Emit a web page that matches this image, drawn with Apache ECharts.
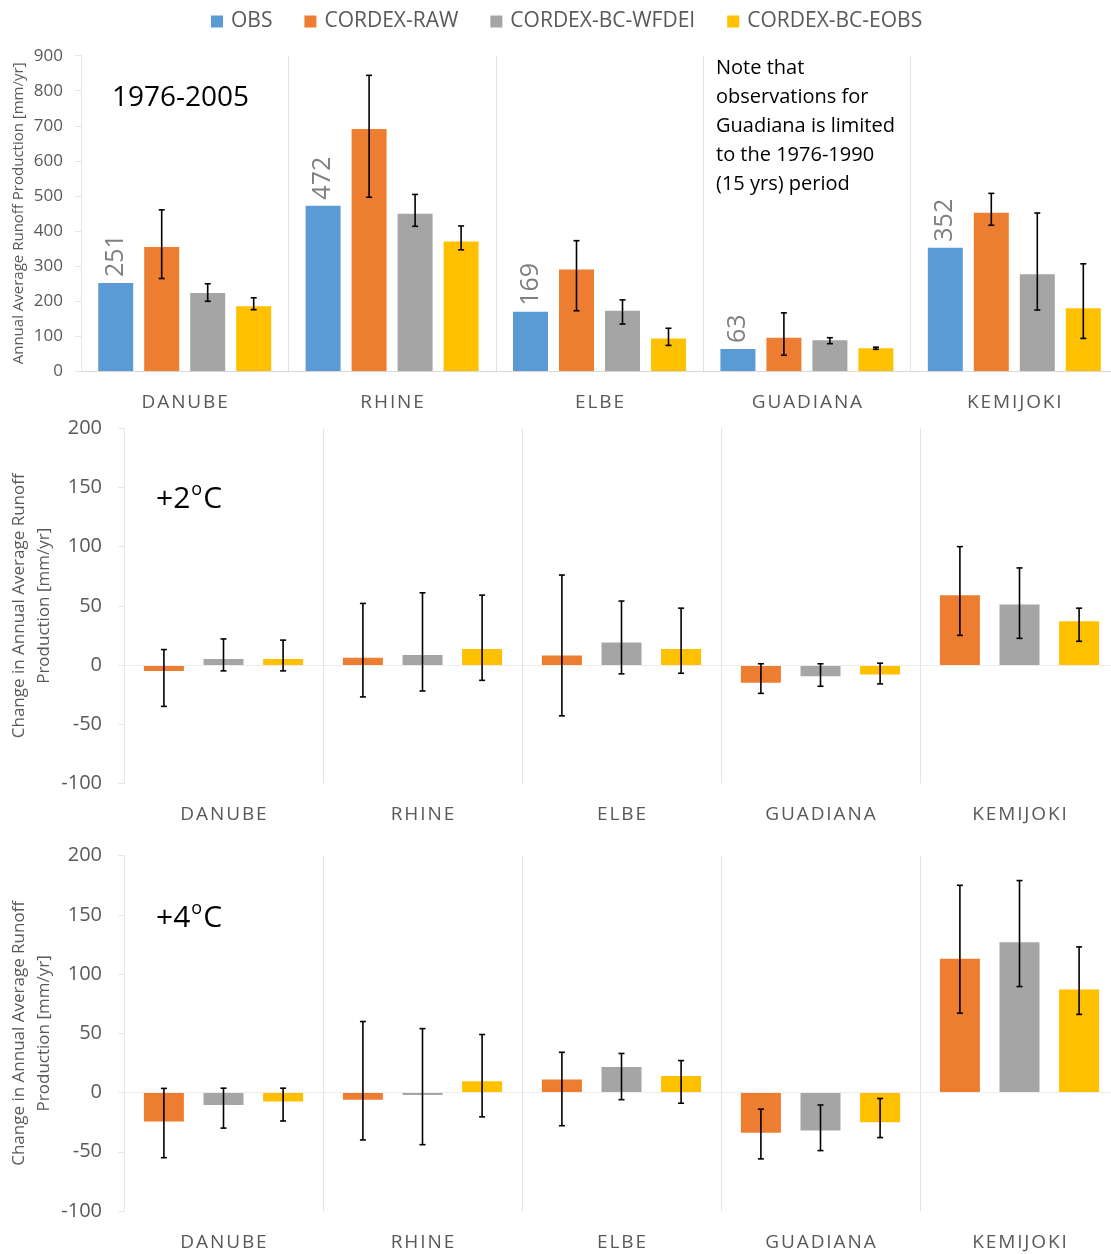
<!DOCTYPE html>
<html><head><meta charset="utf-8">
<script src="https://cdn.jsdelivr.net/npm/echarts@6/dist/echarts.min.js"></script>
<style>html,body{margin:0;padding:0;background:#fff}#c{width:1111px;height:1254px}</style>
</head><body><div id="c"></div>
<script>
const categories = ['DANUBE','RHINE','ELBE','GUADIANA','KEMIJOKI'];
const seriesNames = ['OBS','CORDEX-RAW','CORDEX-BC-WFDEI','CORDEX-BC-EOBS'];
const colors = ['#5B9BD5','#ED7D31','#A5A5A5','#FFC000'];

// Panel 1: 1976-2005 annual average runoff production [mm/yr]
const histObs    = [251, 472, 169, 63, 352];
const histRaw    = [354, 691, 290, 95, 452];
const histRawLo  = [264, 496, 172, 45, 416];
const histRawHi  = [460, 844, 372, 166, 507];
const histWfdei   = [223, 449, 172, 88, 276];
const histWfdeiLo = [199, 413, 134, 78, 174];
const histWfdeiHi = [249, 504, 203, 95, 451];
const histEobs   = [185, 370, 93, 65, 179];
const histEobsLo = [175, 346, 73, 62, 93];
const histEobsHi = [209, 414, 122, 68, 306];

// Panel 2: +2 degC change [mm/yr]
const p2Raw    = [-5, 6, 8, -15, 59];
const p2RawLo  = [-35, -27, -43, -24, 25];
const p2RawHi  = [13, 52, 76, 1, 100];
const p2Wfdei   = [5, 8.5, 19, -9.5, 51];
const p2WfdeiLo = [-5, -22, -7.5, -18, 22.5];
const p2WfdeiHi = [22, 61, 54, 1, 82];
const p2Eobs   = [5, 13.5, 13.5, -8, 37];
const p2EobsLo = [-5, -13, -7, -16, 20];
const p2EobsHi = [21, 59, 48, 1.5, 48];

// Panel 3: +4 degC change [mm/yr]
const p4Raw    = [-24.5, -6, 11, -34, 113];
const p4RawLo  = [-55, -40, -28, -56, 67];
const p4RawHi  = [3.5, 60, 34, -14, 175];
const p4Wfdei   = [-10.5, -2, 21.5, -32, 127];
const p4WfdeiLo = [-30, -44, -6, -49, 89.5];
const p4WfdeiHi = [3.7, 54, 33, -10.5, 179];
const p4Eobs   = [-7.5, 9.5, 14, -25, 87];
const p4EobsLo = [-24, -20.5, -9, -38, 66];
const p4EobsHi = [3.7, 49, 27, -5, 123];

const noteLines = ['Note that','observations for','Guadiana is limited','to the 1976-1990','(15 yrs) period'];
const FONT = '"Open Sans", "DejaVu Sans", sans-serif';
const GRAY_TXT = '#595959';

const chart = echarts.init(document.getElementById('c'), null, {renderer:'canvas'});

function errSeries(xi, lo, hi, offset, lw) {
  return {
    type:'custom', name:'err', xAxisIndex:xi, yAxisIndex:xi, z:10, silent:true,
    data: lo.map((l,i)=>[i,l,hi[i]]),
    encode:{x:0, y:[1,2]},
    renderItem:(params, api)=>{
      const a = api.coord([api.value(0), api.value(1)]);
      const b = api.coord([api.value(0), api.value(2)]);
      const x = a[0] + offset, c = 3;
      const st = {stroke:'#000', lineWidth:lw};
      return {type:'group', children:[
        {type:'line', shape:{x1:x,y1:a[1],x2:x,y2:b[1]}, style:st},
        {type:'line', shape:{x1:x-c,y1:a[1],x2:x+c,y2:a[1]}, style:st},
        {type:'line', shape:{x1:x-c,y1:b[1],x2:x+c,y2:b[1]}, style:st}
      ]};
    }
  };
}

const catLabelFmt = v => v.split('').join('\u200A');

function xAx(gi) {
  return {
    type:'category', gridIndex:gi, data:categories, position:'bottom',
    axisLine:{show: gi===0, onZero:false, lineStyle:{color:'#d9d9d9'}},
    axisTick:{show:false},
    splitLine:{show:true, lineStyle:{color:'#e3e3e3', width:1}},
    axisLabel:{formatter:catLabelFmt, fontSize:19, color:GRAY_TXT, margin:22, fontFamily:FONT}
  };
}
function yAx(gi, min, max, interval, name, nameGap, nameSize, margin, labelSize, lh) {
  return {
    type:'value', gridIndex:gi, min, max, interval,
    name, nameLocation:'middle', nameGap, nameRotate:90, nameMoveOverlap:false,
    nameTextStyle:{fontSize:nameSize, color:GRAY_TXT, fontFamily:FONT, lineHeight:lh},
    axisLine:{show:true, lineStyle:{color:'#e6e6e6'}},
    axisTick:{show:true, length:6, lineStyle:{color:'#e6e6e6'}},
    splitLine:{show:false},
    axisLabel:{fontSize:labelSize, color:GRAY_TXT, margin, fontFamily:FONT}
  };
}

const TOP_BW = 35, TOP_GAP = 11, TOP_P = TOP_BW + TOP_GAP;
const LOW_BW = 40, LOW_GAP = 19.6, LOW_P = LOW_BW + LOW_GAP;

function bar(xi, name, color, data, bw, gap, extra) {
  return Object.assign({
    type:'bar', name, xAxisIndex:xi, yAxisIndex:xi, data, barWidth:bw,
    barGap: (gap/bw*100).toFixed(1)+'%', itemStyle:{color}
  }, extra||{});
}
const zeroLine = {silent:true, symbol:'none', label:{show:false},
  lineStyle:{color:'#ececec', type:'solid', width:1}, data:[{yAxis:0}]};

const series = [
  bar(0, 'OBS', colors[0], histObs, TOP_BW, TOP_GAP, {label:{show:true, position:'top', rotate:90,
      align:'left', verticalAlign:'middle', distance:6, fontSize:25, color:'#7f7f7f', fontFamily:FONT}}),
  bar(0, 'CORDEX-RAW', colors[1], histRaw, TOP_BW, TOP_GAP),
  bar(0, 'CORDEX-BC-WFDEI', colors[2], histWfdei, TOP_BW, TOP_GAP),
  bar(0, 'CORDEX-BC-EOBS', colors[3], histEobs, TOP_BW, TOP_GAP),
  errSeries(0, histRawLo, histRawHi, -0.5*TOP_P, 1.6),
  errSeries(0, histWfdeiLo, histWfdeiHi, 0.5*TOP_P, 1.6),
  errSeries(0, histEobsLo, histEobsHi, 1.5*TOP_P, 1.6),

  bar(1, 'CORDEX-RAW', colors[1], p2Raw, LOW_BW, LOW_GAP, {markLine:zeroLine}),
  bar(1, 'CORDEX-BC-WFDEI', colors[2], p2Wfdei, LOW_BW, LOW_GAP),
  bar(1, 'CORDEX-BC-EOBS', colors[3], p2Eobs, LOW_BW, LOW_GAP),
  errSeries(1, p2RawLo, p2RawHi, -LOW_P, 1.6),
  errSeries(1, p2WfdeiLo, p2WfdeiHi, 0, 1.6),
  errSeries(1, p2EobsLo, p2EobsHi, LOW_P, 1.6),

  bar(2, 'CORDEX-RAW', colors[1], p4Raw, LOW_BW, LOW_GAP, {markLine:zeroLine}),
  bar(2, 'CORDEX-BC-WFDEI', colors[2], p4Wfdei, LOW_BW, LOW_GAP),
  bar(2, 'CORDEX-BC-EOBS', colors[3], p4Eobs, LOW_BW, LOW_GAP),
  errSeries(2, p4RawLo, p4RawHi, -LOW_P, 1.6),
  errSeries(2, p4WfdeiLo, p4WfdeiHi, 0, 1.6),
  errSeries(2, p4EobsLo, p4EobsHi, LOW_P, 1.6)
];

function degLabel(txt, top) {
  return {type:'text', left:156, top, z:20, style:{
    text:'{a|+' + txt + '}{s|o}{a|C}', font:'30px ' + FONT,
    rich:{a:{fontSize:30, fill:'#000', fontFamily:FONT, lineHeight:36},
          s:{fontSize:18, fill:'#000', fontFamily:FONT, verticalAlign:'top', lineHeight:36, padding:[0,1,15,1]}}
  }};
}

const option = {
  animation:false,
  backgroundColor:'#fff',
  textStyle:{fontFamily:FONT},
  legend:{top:6, left:206, icon:'rect', itemWidth:12, itemHeight:12, itemGap:32,
    textStyle:{fontSize:21, color:GRAY_TXT, fontFamily:FONT, padding:[0,0,0,3]}, data:seriesNames},
  grid:[
    {left:81, top:55.7, width:1037, height:315.3, outerBoundsMode:'none', containLabel:false},
    {left:124, top:428.3, width:995, height:355, outerBoundsMode:'none', containLabel:false},
    {left:124, top:855.7, width:995, height:355.3, outerBoundsMode:'none', containLabel:false}
  ],
  xAxis:[xAx(0), xAx(1), xAx(2)],
  yAxis:[
    yAx(0, 0, 900, 100, 'Annual Average Runoff Production [mm/yr]', 51, 15, 18, 17, 22),
    yAx(1, -100, 200, 50, 'Change in Annual Average Runoff\nProduction [mm/yr]', 67, 17, 22, 20, 25),
    yAx(2, -100, 200, 50, 'Change in Annual Average Runoff\nProduction [mm/yr]', 67, 17, 22, 20, 25)
  ],
  series,
  graphic:[
    {type:'text', left:112, top:84, z:20, style:{text:'1976-2005', font:'28px ' + FONT, fill:'#000'}},
    {type:'text', left:716, top:54, z:20, style:{text:noteLines.join('\n'), font:'20px ' + FONT, lineHeight:29, fill:'#000'}},
    degLabel('2', 481),
    degLabel('4', 900)
  ]
};
chart.setOption(option);
</script></body></html>
